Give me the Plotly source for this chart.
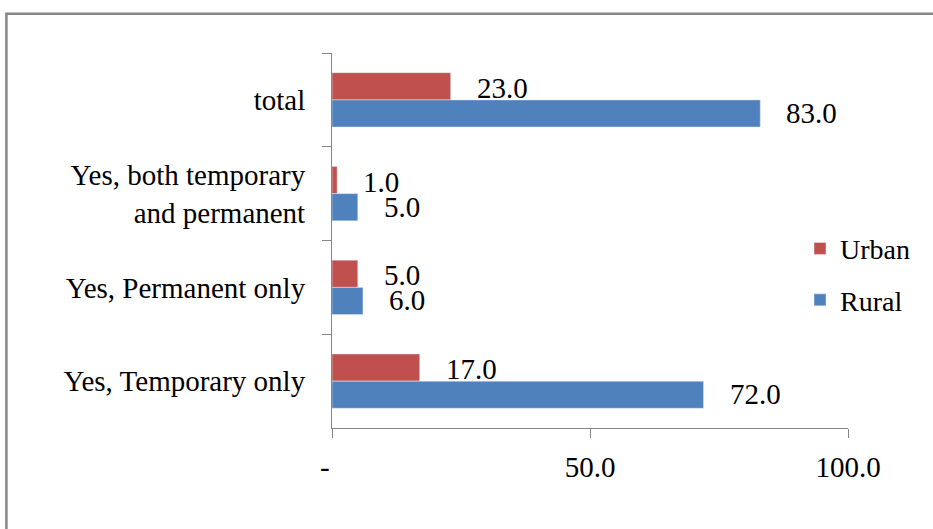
import plotly.graph_objects as go

# categories listed top to bottom
categories = ["total", "Yes, both temporary<br>and permanent",
              "Yes, Permanent only", "Yes, Temporary only"]
urban = [23.0, 1.0, 5.0, 17.0]
rural = [83.0, 5.0, 6.0, 72.0]
tick_vals = [0, 50, 100]
tick_text = ["-\u00a0\u00a0", "50.0", "100.0"]

URBAN_C = "#C0504D"
RURAL_C = "#4F81BD"
FONT = "Liberation Serif, Times New Roman, serif"
FS = 29

fig = go.Figure()
fig.add_trace(go.Bar(y=categories, x=urban, name="Urban", orientation="h",
                     marker=dict(color=URBAN_C), legendgroup="u"))
fig.add_trace(go.Bar(y=categories, x=rural, name="Rural", orientation="h",
                     marker=dict(color=RURAL_C), legendgroup="r"))

# data labels
for cat, u, r in zip(categories, urban, rural):
    fig.add_annotation(x=u, y=cat, text=f"{u:.1f}", showarrow=False,
                       xanchor="left", xshift=24, yshift=12,
                       font=dict(family=FONT, size=FS, color="black"))
    fig.add_annotation(x=r, y=cat, text=f"{r:.1f}", showarrow=False,
                       xanchor="left", xshift=24, yshift=-13,
                       font=dict(family=FONT, size=FS, color="black"))

# outer chart frame
fig.add_shape(type="rect", xref="paper", yref="paper",
              x0=-0.631, x1=1.3, y0=-0.5, y1=1.105,
              line=dict(color="#868686", width=2.5), fillcolor="rgba(0,0,0,0)")

fig.update_layout(
    width=933, height=529,
    margin=dict(l=332, r=85, t=53, b=101),
    paper_bgcolor="white", plot_bgcolor="white",
    barmode="group", bargap=0.42, bargroupgap=0,
    font=dict(family=FONT, size=FS, color="black"),
    legend=dict(x=0.907, y=0.41, xanchor="left", yanchor="middle",
                traceorder="grouped", tracegroupgap=12,
                font=dict(family=FONT, size=28, color="black"),
                bgcolor="rgba(0,0,0,0)", itemwidth=30),
    xaxis=dict(range=[0, 100], tickvals=tick_vals, ticktext=tick_text,
               showgrid=False, zeroline=False, showline=True,
               linecolor="#868686", linewidth=1, ticks="outside",
               ticklen=9, tickcolor="#868686", ticklabelstandoff=4,
               tickfont=dict(family=FONT, size=FS, color="black")),
    yaxis=dict(autorange="reversed", showgrid=False, zeroline=False,
               showline=True, linecolor="#868686", linewidth=1,
               ticks="outside", tickson="boundaries", ticklen=9,
               tickcolor="#868686", ticklabelstandoff=20,
               tickfont=dict(family=FONT, size=FS, color="black")),
)

fig.write_html("out.html", config={"displayModeBar": False},
               post_script="document.body.style.margin='0';document.body.style.overflow='hidden';")
